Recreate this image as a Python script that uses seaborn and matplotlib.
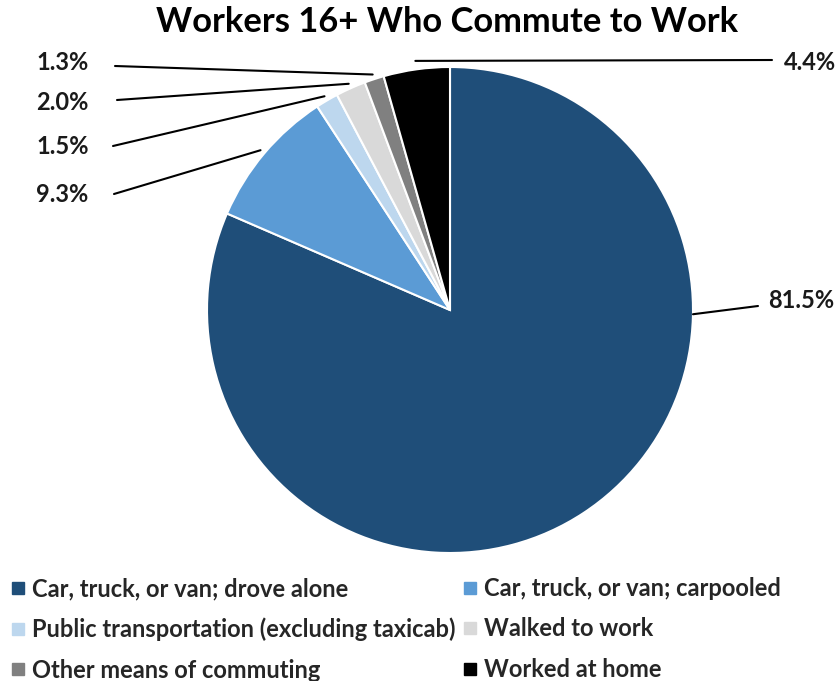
import numpy as np
import matplotlib.pyplot as plt
import seaborn as sns
from matplotlib.lines import Line2D

# Data
modes = ['Car, truck, or van; drove alone', 'Car, truck, or van; carpooled',
         'Public transportation (excluding taxicab)', 'Walked to work',
         'Other means of commuting', 'Worked at home']
shares = [81.5, 9.3, 1.5, 2.0, 1.3, 4.4]
share_labels = ['81.5%', '9.3%', '1.5%', '2.0%', '1.3%', '4.4%']
colors = ['#1F4E79', '#5B9BD5', '#BDD7EE', '#D9D9D9', '#808080', '#000000']

sns.set_theme(style='white')
plt.rcParams['font.family'] = ['Lato', 'DejaVu Sans']
plt.rcParams['font.weight'] = 'bold'

W, H = 838, 681
cx, cy, r = 450, 310, 243
fig = plt.figure(figsize=(W / 100, H / 100), dpi=100)
ax = fig.add_axes([(cx - r) / W, (H - cy - r) / H, 2 * r / W, 2 * r / H])

pal = sns.color_palette(colors)
wedges, _ = ax.pie(shares, colors=pal, startangle=90, counterclock=False, radius=1,
                   wedgeprops=dict(edgecolor='white', linewidth=1.5))
ax.set_xlim(-1, 1)
ax.set_ylim(-1, 1)


def to_data(px, py):
    return (px - cx) / r, (cy - py) / r


# label layout (pixels): line end, text anchor, alignment
layout = [
    ((758, 306), (768, 301), 'left'),
    ((114, 194), (88, 195), 'right'),
    ((113, 146), (89, 146), 'right'),
    ((117, 100), (88, 102), 'right'),
    ((115, 66), (89, 63), 'right'),
    ((772, 60), (784, 62), 'left'),
]

for i, (w, lab) in enumerate(zip(wedges, share_labels)):
    ang = np.deg2rad((w.theta1 + w.theta2) / 2)
    rr = 1.02
    if i == 0:
        ang = np.deg2rad(-1)
        rr = 1.0
    if i == 5:
        rr = 1.035
    x0, y0 = rr * np.cos(ang), rr * np.sin(ang)
    (lx, ly), (tx, ty), ha = layout[i]
    x1, y1 = to_data(lx, ly)
    ax.plot([x0, x1], [y0, y1], color='black', lw=1.5, clip_on=False)
    tx, ty = to_data(tx, ty)
    ax.text(tx, ty, lab, ha=ha, va='center', fontsize=17, fontweight='bold', color='#1a1a1a')

fig.text(447 / W, 1 - 22 / H, 'Workers 16+ Who Commute to Work', ha='center', va='center',
         fontsize=24.8, fontweight='bold', color='black')

handles = [Line2D([], [], marker='s', color=c, linestyle='', markersize=8.5) for c in colors]
order = [0, 2, 4, 1, 3, 5]
fig.legend([handles[i] for i in order], [modes[i] for i in order],
           loc='upper left', bbox_to_anchor=(10 / W, 1 - 577 / H), ncol=2, frameon=False,
           fontsize=17, handletextpad=0.25, columnspacing=0.25, labelspacing=0.74,
           handlelength=0.7, borderaxespad=0, borderpad=0)

fig.savefig('out.png', dpi=100)
